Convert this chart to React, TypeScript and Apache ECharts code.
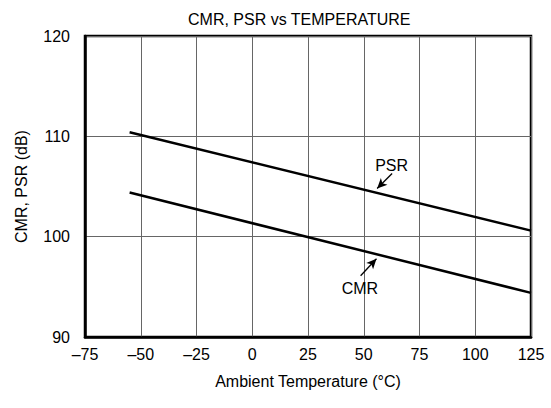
import React, { useEffect, useRef } from "react";
import * as echarts from "echarts";

const xTicks = [-75, 125, 25]; // min, max, interval
const yTicks = [90, 120, 10];
const psr: [number, number][] = [[-55, 110.4], [125, 100.6]];
const cmr: [number, number][] = [[-55, 104.4], [125, 94.4]];
const psrArrow: [number, number][] = [[62.7, 106.3], [56.0, 104.8]];
const cmrArrow: [number, number][] = [[48.6, 96.1], [55.7, 97.8]];
const psrLabelAt: [number, number] = [62.5, 107.1];
const cmrLabelAt: [number, number] = [48.3, 94.8];

const FONT = "'Liberation Sans', Arial, sans-serif";

export default function App() {
  const ref = useRef<HTMLDivElement>(null);
  useEffect(() => {
    const chart = echarts.init(ref.current!, null, { renderer: "svg" });
    const arrowLine = (pts: [number, number][]) => ({
      silent: true,
      symbol: ["none", "arrow"],
      symbolSize: [7, 10],
      lineStyle: { color: "#000", width: 1.3, type: "solid" },
      label: { show: false },
      data: [[{ coord: pts[0] }, { coord: pts[1] }]],
    });
    const textPoint = (name: string, at: [number, number]) => ({
      silent: true,
      symbol: "circle",
      symbolSize: 0,
      label: {
        show: true,
        position: "inside",
        formatter: name,
        color: "#000",
        fontSize: 16,
        fontFamily: FONT,
      },
      data: [{ coord: at }],
    });
    chart.setOption({
      animation: false,
      backgroundColor: "#fff",
      title: {
        text: "CMR, PSR vs TEMPERATURE",
        left: 183,
        top: 6,
        textStyle: { fontSize: 16, fontWeight: "normal", color: "#000", fontFamily: FONT },
      },
      grid: {
        left: 85,
        right: 20,
        top: 36,
        bottom: 71,
        show: true,
        borderColor: "#000",
        borderWidth: 2.5,
        backgroundColor: "transparent",
      },
      xAxis: {
        type: "value",
        min: xTicks[0],
        max: xTicks[1],
        interval: xTicks[2],
        name: "Ambient Temperature (°C)",
        nameLocation: "middle",
        nameGap: 36,
        nameTextStyle: { fontSize: 16, color: "#000", fontFamily: FONT },
        axisLine: { show: true, onZero: false, lineStyle: { color: "#000", width: 2.5 } },
        axisTick: { show: false },
        axisLabel: {
          margin: 9,
          fontSize: 16,
          color: "#000",
          fontFamily: FONT,
          formatter: (v: number) => String(v).replace("-", "\u2013"),
        },
        splitLine: { show: true, lineStyle: { color: "#666", width: 1 } },
      },
      yAxis: {
        type: "value",
        min: yTicks[0],
        max: yTicks[1],
        interval: yTicks[2],
        name: "CMR, PSR (dB)",
        nameLocation: "middle",
        nameGap: 56,
        nameTextStyle: { fontSize: 16, color: "#000", fontFamily: FONT },
        axisLine: { show: true, onZero: false, lineStyle: { color: "#000", width: 2.5 } },
        axisTick: { show: false },
        axisLabel: { margin: 15, fontSize: 16, color: "#000", fontFamily: FONT },
        splitLine: { show: true, lineStyle: { color: "#666", width: 1 } },
      },
      series: [
        {
          name: "PSR",
          type: "line",
          data: psr,
          showSymbol: false,
          lineStyle: { color: "#000", width: 2.5 },
          markLine: arrowLine(psrArrow),
          markPoint: textPoint("PSR", psrLabelAt),
        },
        {
          name: "CMR",
          type: "line",
          data: cmr,
          showSymbol: false,
          lineStyle: { color: "#000", width: 2.5 },
          markLine: arrowLine(cmrArrow),
          markPoint: textPoint("CMR", cmrLabelAt),
        },
      ],
    });
    return () => chart.dispose();
  }, []);
  return (
    <div
      ref={ref}
      style={{ position: "fixed", left: 0, top: 0, width: 551, height: 408 }}
    />
  );
}
